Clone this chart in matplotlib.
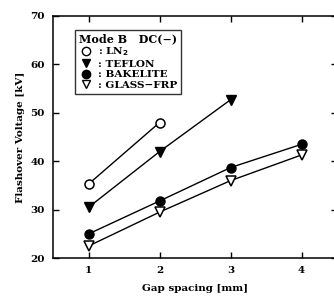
import matplotlib.pyplot as plt
from matplotlib.lines import Line2D

# data
gap_ln2 = [1, 2]
v_ln2 = [35.3, 48.0]
gap_teflon = [1, 2, 3]
v_teflon = [30.5, 42.0, 52.7]
gap_bakelite = [1, 2, 3, 4]
v_bakelite = [25.0, 31.8, 38.7, 43.5]
gap_glass = [1, 2, 3, 4]
v_glass = [22.5, 29.5, 36.0, 41.3]

plt.rcParams['font.family'] = ['DejaVu Serif']
plt.rcParams['font.weight'] = 'bold'

fig = plt.figure(figsize=(3.34, 2.96), dpi=100)
ax = fig.add_axes([0.159, 0.128, 0.85, 0.818])

ax.plot(gap_ln2, v_ln2, color='black', lw=1.0, marker='o', ms=6.5, mfc='white', mec='black', mew=1.1)
ax.plot(gap_teflon, v_teflon, color='black', lw=1.0, marker='v', ms=6.5, mfc='black', mec='black')
ax.plot(gap_bakelite, v_bakelite, color='black', lw=1.0, marker='o', ms=6.5, mfc='black', mec='black')
ax.plot(gap_glass, v_glass, color='black', lw=1.0, marker='v', ms=6.5, mfc='white', mec='black', mew=1.1)

ax.set_xlim(0.5, 4.5)
ax.set_ylim(20, 70)
ax.set_xticks([1, 2, 3, 4])
ax.set_yticks([20, 30, 40, 50, 60, 70])
ax.tick_params(direction='in', top=True, right=True, length=4, width=1, labelsize=7.5, pad=6)
for s in ax.spines.values():
    s.set_linewidth(1.1)

ax.set_xlabel('Gap spacing [mm]', fontsize=7.5, fontweight='bold', labelpad=6)
ax.set_ylabel('Flashover Voltage [kV]', fontsize=7.5, fontweight='bold', labelpad=4)

handles = [
    Line2D([], [], ls='none', marker='o', ms=6, mfc='white', mec='black'),
    Line2D([], [], ls='none', marker='v', ms=6, mfc='black', mec='black'),
    Line2D([], [], ls='none', marker='o', ms=6, mfc='black', mec='black'),
    Line2D([], [], ls='none', marker='v', ms=6, mfc='white', mec='black'),
]
labels = [': LN$_2$', ': TEFLON', ': BAKELITE', ': GLASS\u2212FRP']
leg = ax.legend(handles, labels, title='Mode B   DC(\u2212)', loc='upper left',
                bbox_to_anchor=(0.06, 0.965), fontsize=7.5, title_fontsize=8,
                frameon=True, fancybox=False, edgecolor='black',
                handlelength=1.4, handletextpad=0.4, labelspacing=0.12,
                borderpad=0.35, alignment='left')
leg.get_frame().set_linewidth(1.0)
leg.get_title().set_fontweight('bold')

fig.savefig('out.png', dpi=100)
